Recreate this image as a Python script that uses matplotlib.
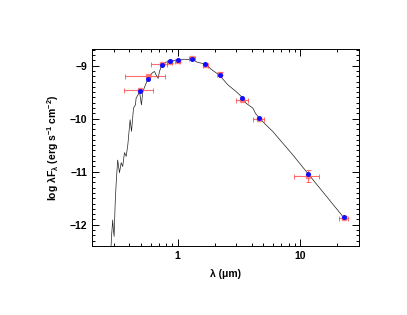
import numpy as np
import matplotlib.pyplot as plt
from matplotlib.ticker import MultipleLocator, LogLocator, NullFormatter

plt.rcParams['font.family'] = ['Liberation Sans', 'DejaVu Sans']
plt.rcParams['mathtext.fontset'] = 'custom'
plt.rcParams['mathtext.rm'] = 'Liberation Sans:bold'
plt.rcParams['mathtext.it'] = 'Liberation Sans:bold'
plt.rcParams['mathtext.bf'] = 'Liberation Sans:bold'

# model spectrum (um, log lambda F_lambda)
model_wl = [0.284, 0.289, 0.295, 0.299, 0.303, 0.309, 0.315, 0.324, 0.335, 0.346,
            0.356, 0.368, 0.380, 0.392, 0.409, 0.420, 0.436, 0.452, 0.458, 0.475,
            0.488, 0.506, 0.519, 0.538, 0.559, 0.588, 0.618, 0.646, 0.667, 0.692,
            0.710, 0.733, 0.755, 0.784, 0.829, 0.910, 1.0, 1.134, 1.325, 1.455,
            1.682, 1.872, 2.187, 2.556, 2.99, 3.29, 3.61, 4.09, 4.30, 4.63,
            5.25, 5.94, 7.17, 8.65, 11.47, 22.1, 22.8]
model_f = [-12.55, -12.2, -11.91, -12.1, -12.22, -11.6, -11.21, -10.78, -11.02, -10.83,
           -10.90, -10.64, -10.71, -10.49, -10.02, -10.24, -9.80, -9.74, -9.61, -9.55,
           -9.49, -9.74, -9.49, -9.40, -9.30, -9.21, -9.14, -9.11, -9.18, -9.24,
           -9.11, -9.02, -8.99, -8.95, -8.92, -8.91, -8.89, -8.88, -8.89, -8.94,
           -8.97, -9.07, -9.18, -9.36, -9.49, -9.58, -9.71, -9.80, -9.90, -9.99,
           -10.12, -10.24, -10.46, -10.68, -11.03, -11.84, -11.87]

# photometry
phot_wl = [0.494, 0.577, 0.75, 0.857, 1.0, 1.31, 1.68, 2.2, 3.35, 4.57, 11.5, 22.5]
wl_lo = [0.363, 0.375, 0.61, 0.81, 0.95, 1.24, 1.6, 2.1, 3.0, 4.08, 8.8, 20.8]
wl_hi = [0.625, 0.79, 0.81, 0.90, 1.05, 1.38, 1.76, 2.3, 3.72, 5.09, 14.3, 24.6]
obs_f = [-9.46, -9.19, -8.97, -8.93, -8.91, -8.86, -8.98, -9.15, -9.65, -10.01, -11.08, -11.87]
obs_err = [0.02, 0.02, 0.02, 0.02, 0.02, 0.02, 0.02, 0.02, 0.02, 0.02, 0.12, 0.03]
mod_f = [-9.476, -9.25, -8.99, -8.92, -8.89, -8.88, -8.97, -9.17, -9.62, -9.99, -11.04, -11.86]

fig = plt.figure(figsize=(4.07, 3.15), dpi=100)
ax = fig.add_axes([0.226, 0.219, 0.656, 0.625])

ax.plot(model_wl, model_f, color='#202020', lw=0.5)

xerr = [np.array(phot_wl) - np.array(wl_lo), np.array(wl_hi) - np.array(phot_wl)]
ax.errorbar(phot_wl, obs_f, xerr=xerr, yerr=obs_err, fmt='s', ms=3.2,
            color='#ff3030', mfc='#ff8080', mec='#ff6060', ecolor='#ff3030',
            elinewidth=0.8, capsize=1.8, capthick=0.7, alpha=0.7, zorder=3)
ax.plot(phot_wl, mod_f, 'o', color='#1010ff', ms=2.6, zorder=4)

ax.set_xscale('log')
ax.set_xlim(0.2, 30)
ax.set_ylim(-12.4, -8.69)
ax.set_xticks([1, 10])
ax.set_xticklabels(['1', '10'])
ax.xaxis.set_minor_locator(LogLocator(base=10, subs=np.arange(2, 10)))
ax.xaxis.set_minor_formatter(NullFormatter())
ax.set_yticks([-12, -11, -10, -9])
ax.yaxis.set_minor_locator(MultipleLocator(0.1))

ax.tick_params(which='both', direction='in', top=True, right=True, labelsize=7.5, width=0.7)
ax.tick_params(which='major', length=5)
ax.tick_params(which='minor', length=2.5)
for lab in ax.get_xticklabels() + ax.get_yticklabels():
    lab.set_fontweight('bold')
for s in ax.spines.values():
    s.set_linewidth(0.7)

ax.set_xlabel('λ (μm)', fontsize=7.5, fontweight='bold', labelpad=6)
ax.set_ylabel(r'log λF$_λ$ (erg s$^{-1}$ cm$^{-2}$)', fontsize=7.5, fontweight='bold', labelpad=6)

fig.savefig('out.png', dpi=100)
